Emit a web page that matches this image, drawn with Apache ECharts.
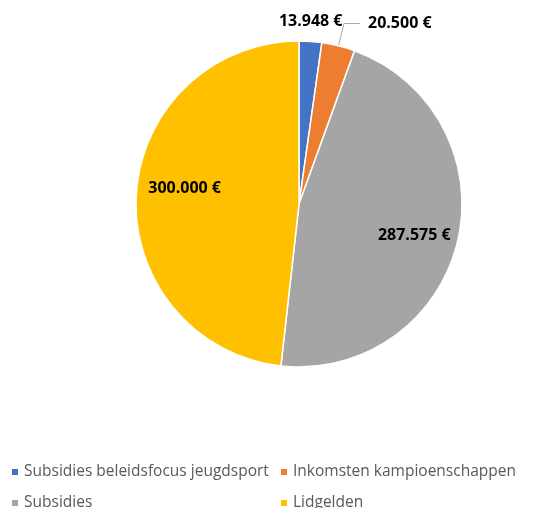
<!DOCTYPE html>
<html>
<head>
<meta charset="utf-8">
<script src="https://cdn.jsdelivr.net/npm/echarts@6/dist/echarts.min.js"></script>
<style>
  html, body { margin: 0; padding: 0; background: #fff; }
  #chart { width: 538px; height: 508px; }
</style>
</head>
<body>
<div id="chart"></div>
<script>
const categories = ["Subsidies beleidsfocus jeugdsport", "Inkomsten kampioenschappen", "Subsidies", "Lidgelden"];
const values = [13948, 20500, 287575, 300000];
const colors = ["#4472C4", "#ED7D31", "#A5A5A5", "#FFC000"];

function euro(v) {
  // dutch style: dot as thousands separator
  return String(v).replace(/\B(?=(\d{3})+(?!\d))/g, ".") + " €";
}

const labelFont = { fontFamily: "Open Sans", fontWeight: "bold", fontSize: 16, color: "#000" };
const legendText = { fontFamily: "Open Sans", fontSize: 15.5, color: "#595959" };

const chart = echarts.init(document.getElementById("chart"));

chart.setOption({
  animation: false,
  legend: [
    {
      data: [categories[0], categories[2]],
      orient: "vertical",
      left: 10,
      top: 464,
      height: 60,
      padding: 0,
      icon: "rect",
      itemWidth: 8,
      itemHeight: 8,
      itemGap: 15,
      textStyle: legendText,
    },
    {
      data: [categories[1], categories[3]],
      orient: "vertical",
      left: 279,
      top: 464,
      height: 60,
      padding: 0,
      icon: "rect",
      itemWidth: 8,
      itemHeight: 8,
      itemGap: 15,
      textStyle: legendText,
    },
  ],
  series: [
    {
      type: "pie",
      center: [299, 204],
      radius: 163,
      startAngle: 90,
      clockwise: true,
      avoidLabelOverlap: false,
      itemStyle: { borderColor: "#fff", borderWidth: 1.5 },
      label: Object.assign({ formatter: (p) => euro(p.value) }, labelFont),
      data: categories.map((name, i) => {
        const item = { name: name, value: values[i], itemStyle: { color: colors[i] } };
        if (i === 0) {
          item.label = { position: "outside", offset: [-38, 0] };
          item.labelLine = { show: false, length: 20, length2: 0 };
        } else if (i === 1) {
          item.label = { position: "outside", distanceToLabelLine: 8 };
          item.labelLine = { show: true, length: 23, length2: 16, lineStyle: { color: "#a6a6a6", width: 1 } };
        } else if (i === 2) {
          item.label = { position: "inside", offset: [33, 12] };
        } else {
          item.label = { position: "inside", offset: [-30, -11] };
        }
        return item;
      }),
    },
  ],
});
</script>
</body>
</html>
